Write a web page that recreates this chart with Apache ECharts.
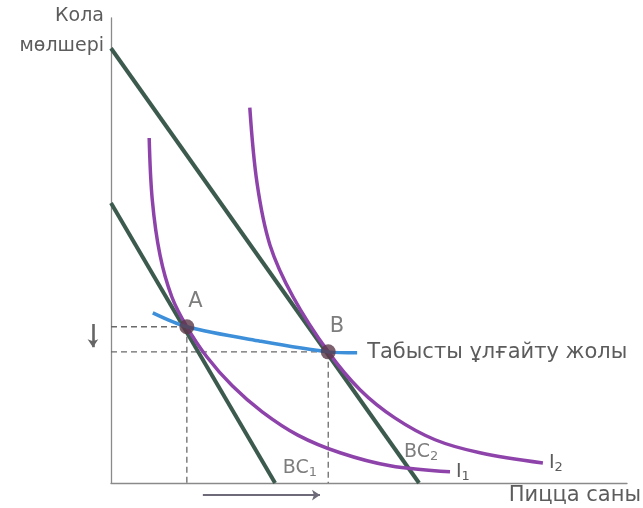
<!DOCTYPE html>
<html>
<head>
<meta charset="utf-8">
<script src="https://cdn.jsdelivr.net/npm/echarts@6/dist/echarts.min.js"></script>
<style>
  html, body { margin: 0; padding: 0; background: #ffffff; }
  #chart { width: 643px; height: 508px; }
</style>
</head>
<body>
<div id="chart"></div>
<script>
// Income–consumption diagram: pizza (x) vs cola (y)
const budget1 = [[0, 6.02], [3.18, 0]];
const budget2 = [[0, 9.35], [5.97, 0]];
const indiff1 = [[0.74, 7.42], [0.80, 6.09], [0.95, 4.90], [1.18, 4.00], [1.47, 3.36],
                 [1.86, 2.71], [2.35, 2.09], [2.93, 1.53], [3.62, 1.03], [4.44, 0.65],
                 [5.41, 0.37], [6.57, 0.24]];
const indiff2 = [[2.69, 8.07], [2.83, 6.45], [3.08, 5.12], [3.53, 4.00], [4.21, 2.82],
                 [4.83, 2.00], [5.50, 1.40], [6.28, 0.93], [7.15, 0.65], [8.37, 0.43]];
const expansionPath = [[0.81, 3.66], [1.47, 3.36], [2.89, 3.05], [4.21, 2.82], [4.77, 2.80]];
const optimumA = [1.47, 3.36];
const optimumB = [4.21, 2.82];
const pizzaShift = [[1.78, -0.26], [4.05, -0.26]];
const colaShift = [[-0.35, 3.42], [-0.35, 2.92]];

const labelGray = '#5c5c5c';
const darkGreen = '#3c5a4e';
const purple = '#8e43ab';
const blue = '#3d8fd9';
const font = '"DejaVu Sans", Verdana, sans-serif';

const dashed = { color: '#6a6a6a', width: 1.3, type: [6, 4] };

function dashSeries(data) {
  return { type: 'line', data, symbol: 'none', silent: true, z: 1,
           lineStyle: dashed };
}

const subRich = {
  m: { fontSize: 19, color: labelGray, fontFamily: font },
  s: { fontSize: 13, color: labelGray, fontFamily: font, verticalAlign: 'bottom', padding: [9, 0, 0, 0] }
};

function arrowSeries(coords, color, width) {
  return {
    type: 'lines', coordinateSystem: 'cartesian2d', clip: false, z: 2, silent: true,
    symbol: ['none', 'arrow'], symbolSize: 8,
    lineStyle: { color, width, opacity: 1 },
    data: [{ coords }]
  };
}

const chart = echarts.init(document.getElementById('chart'), null, { renderer: 'canvas' });

chart.setOption({
  animation: false,
  backgroundColor: '#ffffff',
  grid: { left: 111, top: 18, width: 516, height: 465 },
  xAxis: {
    type: 'value', min: 0, max: 10,
    axisLine: { show: true, lineStyle: { color: '#8a8a8a', width: 1.3 } },
    axisTick: { show: false }, axisLabel: { show: false }, splitLine: { show: false }
  },
  yAxis: {
    type: 'value', min: 0, max: 10,
    axisLine: { show: true, lineStyle: { color: '#8a8a8a', width: 1.3 } },
    axisTick: { show: false }, axisLabel: { show: false }, splitLine: { show: false }
  },
  graphic: [
    { type: 'text', right: 539, top: 7,
      style: { text: 'Кола', font: '19px ' + font, fill: labelGray, textAlign: 'right' } },
    { type: 'text', right: 539, top: 37,
      style: { text: 'мөлшері', font: '19px ' + font, fill: labelGray, textAlign: 'right' } },
    { type: 'text', right: 2, top: 485,
      style: { text: 'Пицца саны', font: '21px ' + font, fill: labelGray, textAlign: 'right' } }
  ],
  series: [
    dashSeries([[0, optimumA[1]], optimumA]),
    dashSeries([[0, optimumB[1]], optimumB]),
    dashSeries([optimumA, [optimumA[0], 0]]),
    dashSeries([optimumB, [optimumB[0], 0]]),
    {
      type: 'line', data: budget1, symbol: 'none', z: 3,
      lineStyle: { color: darkGreen, width: 4 }
    },
    {
      type: 'line', data: budget2, symbol: 'none', z: 3,
      lineStyle: { color: darkGreen, width: 4 }
    },
    {
      type: 'line', data: indiff1, symbol: 'none', smooth: 0.35, z: 4,
      lineStyle: { color: purple, width: 3.5 },
      endLabel: { show: true, distance: 6, formatter: '{m|I}{s|1}', rich: subRich }
    },
    {
      type: 'line', data: indiff2, symbol: 'none', smooth: 0.35, z: 4,
      lineStyle: { color: purple, width: 3.5 },
      endLabel: { show: true, distance: 6, formatter: '{m|I}{s|2}', rich: subRich }
    },
    {
      type: 'line', data: expansionPath, symbol: 'none', smooth: 0.3, z: 5,
      lineStyle: { color: blue, width: 3.5 },
      endLabel: {
        show: true, distance: 10, formatter: 'Табысты ұлғайту жолы',
        fontSize: 21, color: labelGray, fontFamily: font
      }
    },
    {
      type: 'scatter', data: [optimumA, optimumB], symbolSize: 15, z: 6,
      itemStyle: { color: '#5b3848' },
      label: {
        show: true, position: [9, -28], fontSize: 21, color: labelGray, fontFamily: font,
        formatter: p => (p.dataIndex === 0 ? 'A' : 'B')
      }
    },
    {
      type: 'scatter', symbolSize: 0, z: 6, silent: true,
      data: [
        { value: [3.66, 0.32], name: '1' },
        { value: [6.01, 0.67], name: '2' }
      ],
      label: {
        show: true, position: 'inside', formatter: p => '{m|BC}{s|' + p.name + '}',
        rich: subRich
      }
    },
    arrowSeries(pizzaShift, '#6f6a7a', 2.2),
    arrowSeries(colaShift, '#666666', 2.6)
  ]
});
</script>
</body>
</html>
